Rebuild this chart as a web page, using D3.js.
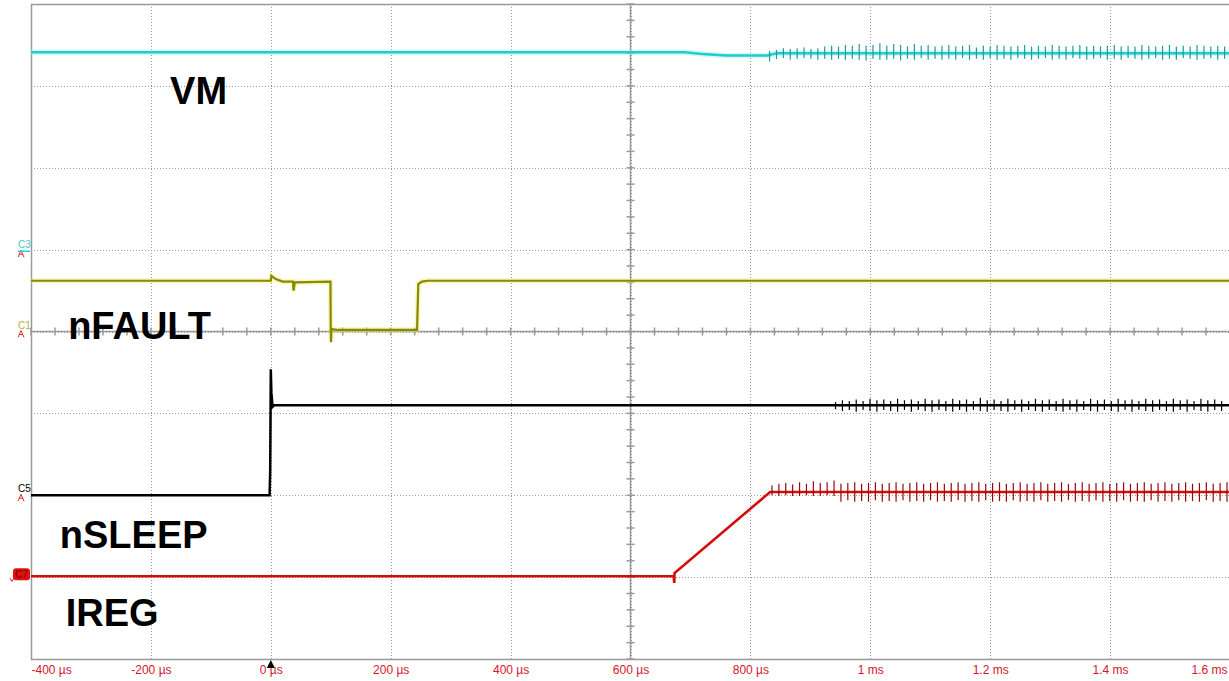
<!DOCTYPE html>
<html>
<head>
<meta charset="utf-8">
<script src="https://cdn.jsdelivr.net/npm/d3@7"></script>
<style>
  body { margin: 0; background: #fff; }
  svg { display: block; }
</style>
</head>
<body>
<svg id="scope"></svg>
<script>
// time axis (µs)
const timeTicks = [-400, -200, 0, 200, 400, 600, 800, 1000, 1200, 1400, 1600];
const timeLabels = ["-400 µs", "-200 µs", "0 µs", "200 µs", "400 µs", "600 µs", "800 µs", "1 ms", "1.2 ms", "1.4 ms", "1.6 ms"];

// trace levels in screen divisions (0 = centre), [time µs, div]
const vmBase = [[-400, 3.41], [690, 3.41], [720, 3.39], [760, 3.37], [828, 3.37], [845, 3.40], [1600, 3.40]];
const nFaultBase = [[-400, 0.62], [0, 0.62], [1, 0.68], [8, 0.64], [20, 0.61], [37, 0.61], [38, 0.50], [40, 0.60], [99.5, 0.61],
  [100, 0.02], [100.5, -0.13], [101, 0.03], [110, 0.02], [244, 0.02], [246, 0.58], [252, 0.61], [262, 0.62], [1600, 0.62]];
const nSleepBase = [[-400, -2.0], [-2, -2.0], [-1, -1.7], [0, -0.46], [1, -0.75], [3, -0.92], [6, -0.90], [1600, -0.90]];
const iregBase = [[-400, -2.99], [672, -2.99], [673, -3.07], [673.5, -2.95], [833, -1.96], [1600, -1.96]];

// switching spikes: first spike time, spacing (µs), [up, down] heights in div
const vmSpikeStart = 832, vmSpikeStep = 11.5;
const vmSpikes = [[0.05,0.08],[0.04,0.07],[0.06,0.06],[0.05,0.08],[0.06,0.07],[0.07,0.06],[0.05,0.07],[0.06,0.08],[0.08,0.07],[0.09,0.08],
  [0.08,0.07],[0.10,0.08],[0.09,0.07],[0.11,0.08],[0.09,0.09],[0.10,0.07],[0.12,0.08],[0.09,0.08],[0.11,0.07],[0.10,0.09],
  [0.08,0.07],[0.11,0.08],[0.09,0.06],[0.10,0.08],[0.08,0.07],[0.09,0.08],[0.10,0.07],[0.08,0.08],[0.09,0.06],[0.10,0.08],
  [0.07,0.07],[0.09,0.08],[0.08,0.06],[0.10,0.08],[0.09,0.07],[0.08,0.08],[0.09,0.06],[0.10,0.07],[0.08,0.08],[0.09,0.07],
  [0.08,0.06],[0.10,0.08],[0.09,0.07],[0.08,0.08],[0.09,0.06],[0.10,0.07],[0.08,0.08],[0.09,0.07],[0.08,0.06],[0.09,0.08],
  [0.10,0.07],[0.08,0.08],[0.09,0.06],[0.08,0.07],[0.10,0.08],[0.09,0.07],[0.08,0.06],[0.09,0.08],[0.10,0.07],[0.08,0.08],
  [0.09,0.06],[0.08,0.07],[0.10,0.08],[0.09,0.07],[0.08,0.06],[0.09,0.08],[0.08,0.07]];

const nSleepSpikeStart = 942, nSleepSpikeStep = 11.5;
const nSleepSpikes = [[0.04,0.05],[0.06,0.07],[0.05,0.06],[0.07,0.08],[0.05,0.06],[0.08,0.07],[0.06,0.08],[0.07,0.06],[0.05,0.07],[0.08,0.08],
  [0.06,0.06],[0.07,0.08],[0.05,0.06],[0.08,0.07],[0.06,0.08],[0.07,0.06],[0.05,0.07],[0.08,0.08],[0.06,0.06],[0.07,0.08],
  [0.05,0.06],[0.09,0.07],[0.06,0.08],[0.07,0.06],[0.05,0.07],[0.08,0.08],[0.06,0.06],[0.07,0.08],[0.05,0.06],[0.08,0.07],
  [0.06,0.08],[0.07,0.06],[0.05,0.07],[0.08,0.08],[0.06,0.06],[0.07,0.08],[0.05,0.06],[0.08,0.07],[0.06,0.08],[0.07,0.06],
  [0.05,0.07],[0.08,0.08],[0.06,0.06],[0.07,0.08],[0.05,0.06],[0.08,0.07],[0.06,0.08],[0.07,0.06],[0.05,0.07],[0.08,0.08],
  [0.06,0.06],[0.07,0.08],[0.05,0.06],[0.08,0.07],[0.06,0.08],[0.07,0.06],[0.05,0.07]];

const iregSpikeStart = 836, iregSpikeStep = 11.5;
const iregSpikes = [[0.08,0.04],[0.10,0.05],[0.11,0.04],[0.09,0.05],[0.12,0.05],[0.10,0.04],[0.13,0.05],[0.11,0.05],[0.12,0.04],[0.14,0.05],
  [0.10,0.12],[0.11,0.10],[0.12,0.12],[0.10,0.11],[0.11,0.12],[0.12,0.10],[0.10,0.12],[0.11,0.11],[0.12,0.12],[0.10,0.10],
  [0.11,0.12],[0.12,0.11],[0.10,0.12],[0.11,0.10],[0.12,0.12],[0.10,0.11],[0.11,0.12],[0.12,0.10],[0.10,0.12],[0.11,0.11],
  [0.12,0.12],[0.10,0.10],[0.11,0.12],[0.12,0.11],[0.10,0.12],[0.11,0.10],[0.12,0.12],[0.10,0.11],[0.11,0.12],[0.12,0.10],
  [0.10,0.12],[0.11,0.11],[0.12,0.12],[0.10,0.10],[0.11,0.12],[0.12,0.11],[0.10,0.12],[0.11,0.10],[0.12,0.12],[0.10,0.11],
  [0.11,0.12],[0.12,0.10],[0.10,0.12],[0.11,0.11],[0.12,0.12],[0.10,0.10],[0.11,0.12],[0.12,0.11],[0.10,0.12],[0.11,0.10],
  [0.12,0.12],[0.10,0.11],[0.11,0.12],[0.12,0.10],[0.10,0.12],[0.11,0.11],[0.12,0.12]];

const width = 1229, height = 681;
const plotLeft = 31, plotRight = 1230, plotTop = 4, plotBottom = 659;

const svg = d3.select("#scope").attr("width", width).attr("height", height);

const x = d3.scaleLinear().domain([-400, 1600]).range([plotLeft, plotRight]);
const y = d3.scaleLinear().domain([-4, 4]).range([plotBottom, plotTop]);

// grid
const grid = svg.append("g").attr("id", "grid");
grid.selectAll("line.vg")
  .data(d3.range(-200, 1600, 200))
  .join("line")
  .attr("x1", d => Math.round(x(d)) + 0.5).attr("x2", d => Math.round(x(d)) + 0.5)
  .attr("y1", plotTop).attr("y2", plotBottom)
  .attr("stroke", "#9a9a9a").attr("stroke-width", 1)
  .attr("stroke-dasharray", "1,2");
grid.selectAll("line.hg")
  .data(d3.range(-3, 4, 1))
  .join("line")
  .attr("x1", plotLeft).attr("x2", plotRight)
  .attr("y1", d => Math.round(y(d)) + 0.5).attr("y2", d => Math.round(y(d)) + 0.5)
  .attr("stroke", "#9a9a9a").attr("stroke-width", 1)
  .attr("stroke-dasharray", "1,2");

// centre axes with minor ticks
grid.append("line")
  .attr("x1", x(600)).attr("x2", x(600)).attr("y1", plotTop).attr("y2", plotBottom)
  .attr("stroke", "#9a9a9a").attr("stroke-width", 1.5);
grid.append("line")
  .attr("x1", plotLeft).attr("x2", plotRight).attr("y1", y(0)).attr("y2", y(0))
  .attr("stroke", "#9a9a9a").attr("stroke-width", 1.5);
grid.selectAll("line.ty")
  .data(d3.range(-4, 4.01, 0.2))
  .join("line")
  .attr("x1", x(600) - 4).attr("x2", x(600) + 4)
  .attr("y1", d => y(d)).attr("y2", d => y(d))
  .attr("stroke", "#9a9a9a").attr("stroke-width", 1.5);
grid.selectAll("line.tx")
  .data(d3.range(-400, 1600.1, 40))
  .join("line")
  .attr("x1", d => x(d)).attr("x2", d => x(d))
  .attr("y1", y(0) - 4).attr("y2", y(0) + 4)
  .attr("stroke", "#9a9a9a").attr("stroke-width", 1.5);

// frame
svg.append("path")
  .attr("d", `M${plotRight},${plotTop + 0.5}H${plotLeft + 0.5}V${plotBottom + 0.5}H${plotRight}`)
  .attr("fill", "none").attr("stroke", "#9a9a9a").attr("stroke-width", 1.5);

// time axis labels
const xAxis = d3.axisBottom(x).tickValues(timeTicks)
  .tickFormat((d, i) => timeLabels[i]).tickSize(0).tickPadding(6);
const xAxisG = svg.append("g").attr("transform", `translate(0,${plotBottom})`).call(xAxis);
xAxisG.select(".domain").remove();
xAxisG.selectAll("text")
  .attr("fill", "#d4142a")
  .style("font-family", "Liberation Sans, Arial, sans-serif")
  .style("font-size", "12px");
xAxisG.selectAll("text").filter((d, i) => i === 0)
  .attr("text-anchor", "start").attr("dx", 0);
xAxisG.selectAll("text").filter((d, i) => i === timeTicks.length - 1)
  .attr("text-anchor", "end").attr("x", -3);

// trigger marker
svg.append("path")
  .attr("d", `M${x(0)},${plotBottom + 1}l-4,8h8z`)
  .attr("fill", "#000");

const line = d3.line().x(d => x(d[0])).y(d => y(d[1]));

function levelAt(base, t) {
  for (let i = 1; i < base.length; i++) {
    if (t <= base[i][0]) {
      const a = base[i - 1], b = base[i];
      return a[1] + (b[1] - a[1]) * (t - a[0]) / (b[0] - a[0]);
    }
  }
  return base[base.length - 1][1];
}

function spikePath(base, start, step, spikes) {
  return spikes.map((s, i) => {
    const t = start + i * step;
    const lv = levelAt(base, t);
    return `M${x(t)},${y(lv + s[0])}V${y(lv - s[1])}`;
  }).join("");
}

function trace(id, base, color, halo, w, spikes) {
  const g = svg.append("g").attr("id", id);
  if (halo) {
    g.append("path").attr("d", line(base))
      .attr("fill", "none").attr("stroke", halo).attr("stroke-width", w + 3)
      .attr("stroke-opacity", 0.45);
  }
  g.append("path").attr("d", line(base))
    .attr("fill", "none").attr("stroke", color).attr("stroke-width", w);
  if (spikes) {
    g.append("path").attr("d", spikePath(base, spikes.start, spikes.step, spikes.data))
      .attr("fill", "none").attr("stroke", spikes.color).attr("stroke-width", 1.2);
  }
}

trace("vm", vmBase, "#22cccc", "#9eeeee", 2.5,
  {start: vmSpikeStart, step: vmSpikeStep, data: vmSpikes, color: "#1a9c9c"});
trace("nfault", nFaultBase, "#8a8a00", "#eeee70", 2.2, null);
trace("nsleep", nSleepBase, "#000000", null, 2.5,
  {start: nSleepSpikeStart, step: nSleepSpikeStep, data: nSleepSpikes, color: "#000"});
trace("ireg", iregBase, "#d40c0c", null, 2.6,
  {start: iregSpikeStart, step: iregSpikeStep, data: iregSpikes, color: "#9a0808"});

// signal names
const names = [
  {text: "VM", t: -168, lv: 2.78},
  {text: "nFAULT", t: -338, lv: -0.09},
  {text: "nSLEEP", t: -352, lv: -2.65},
  {text: "IREG", t: -342, lv: -3.6}
];
svg.append("g").selectAll("text")
  .data(names)
  .join("text")
  .attr("x", d => x(d.t)).attr("y", d => y(d.lv))
  .attr("font-family", "Liberation Sans, Arial, sans-serif")
  .attr("font-weight", "bold")
  .attr("font-size", 38)
  .attr("fill", "#000")
  .text(d => d.text);

// channel markers at the left edge
const markers = [
  {name: "C3", lv: 0.98, color: "#33cccc"},
  {name: "C1", lv: 0.0, color: "#b0b040"},
  {name: "C5", lv: -2.0, color: "#000"}
];
const mk = svg.append("g");
markers.forEach(m => {
  mk.append("text").attr("x", 18).attr("y", y(m.lv) - 3)
    .attr("font-family", "Liberation Sans, Arial, sans-serif")
    .attr("font-size", 10).attr("fill", m.color).text(m.name);
  mk.append("path")
    .attr("d", `M18,${y(m.lv) + 6}L21,${y(m.lv) - 1}L24,${y(m.lv) + 6}M19,${y(m.lv) + 3}H23`)
    .attr("fill", "none").attr("stroke", "#d43030").attr("stroke-width", 1);
});
mk.append("line").attr("x1", 18).attr("x2", 30).attr("y1", y(0.98)).attr("y2", y(0.98))
  .attr("stroke", "#33cccc").attr("stroke-width", 1.5);
mk.append("rect").attr("x", 13).attr("y", y(-2.99) - 8).attr("width", 17).attr("height", 12)
  .attr("rx", 3).attr("fill", "#e01010");
mk.append("text").attr("x", 15).attr("y", y(-2.99) + 2)
  .attr("font-family", "Liberation Sans, Arial, sans-serif")
  .attr("font-size", 10).attr("fill", "#700000").text("C7");
mk.append("path").attr("d", `M10,${y(-2.99) + 2}l2,3l2,-3`)
  .attr("fill", "none").attr("stroke", "#e01010").attr("stroke-width", 1);
</script>
</body>
</html>
